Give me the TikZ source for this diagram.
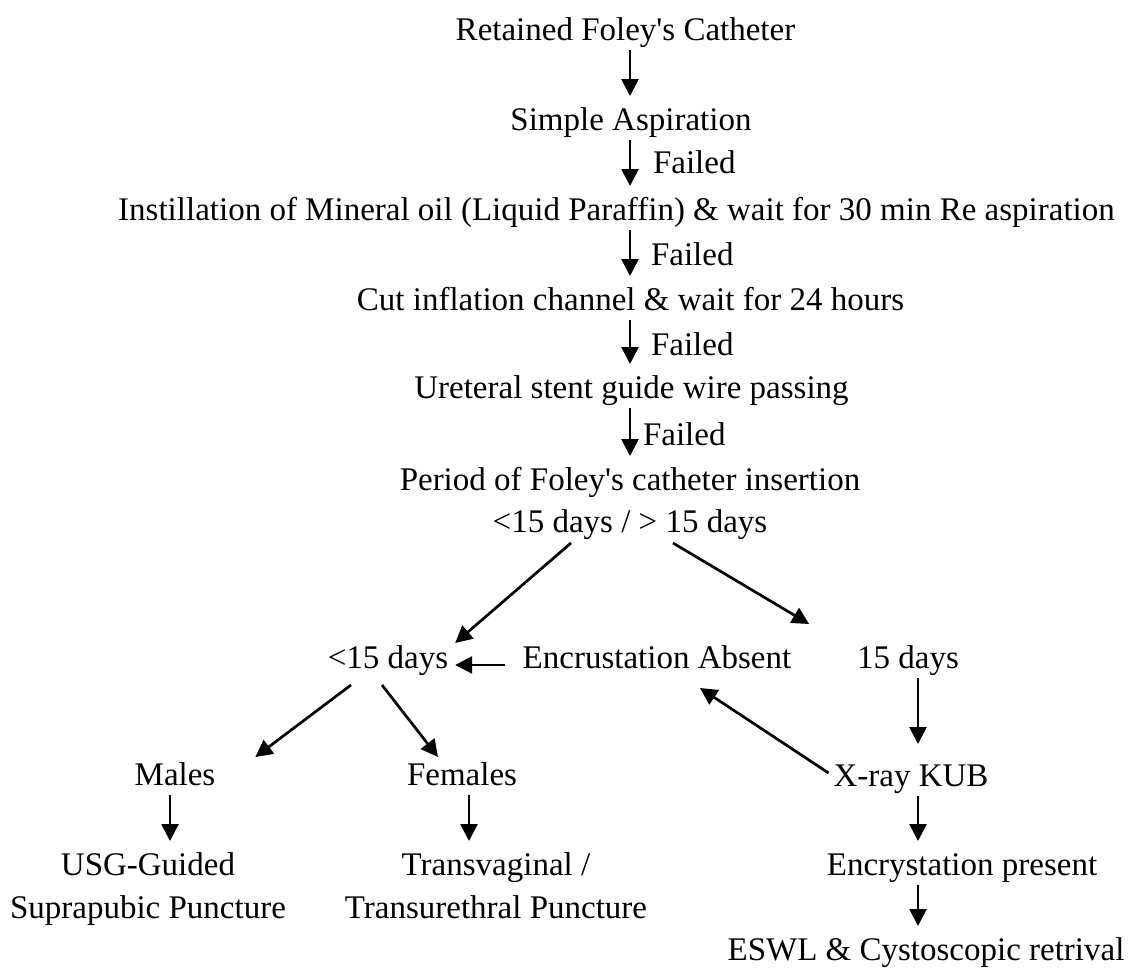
\documentclass[tikz,border=0pt]{standalone}
\usepackage{fontspec}
\setmainfont{Liberation Serif}
\usetikzlibrary{arrows.meta,positioning}

\begin{document}
\begin{tikzpicture}[
  x=1pt,y=-1pt,
  txt/.style={inner sep=0pt,outer sep=0pt,font=\fontsize{33}{43}\selectfont,text height=22pt,text depth=8pt},
  twoline/.style={inner sep=0pt,outer sep=0pt,font=\fontsize{33}{43}\selectfont,align=center,anchor=north},
  note/.style={txt,anchor=west},
  arrow/.style={-{Triangle[length=17pt,width=17pt]},line width=2.7pt},
  flow/.style={arrow,shorten <=2pt,shorten >=12pt}
]
\useasboundingbox (0,0) rectangle (1130,969);

\node[txt] (retained) at (625.5,33) {Retained Foley\textquotesingle s Catheter};
\node[txt] (aspiration) at (631,123) {Simple Aspiration};
\node[txt] (instill) at (616.5,213) {Instillation of Mineral oil (Liquid Paraffin) \& wait for 30 min Re aspiration};
\node[txt] (cut) at (630.5,303) {Cut inflation channel \& wait for 24 hours};
\node[txt] (wire) at (631.5,391) {Ureteral stent guide wire passing};
\node[txt] (period) at (630,483) {Period of Foley\textquotesingle s catheter insertion};
\node[txt] (split) at (630,525) {<15 days / > 15 days};

\node[note] (fail1) at (653,166) {Failed};
\node[note] (fail2) at (651,258) {Failed};
\node[note] (fail3) at (651,348) {Failed};
\node[note] (fail4) at (643,438) {Failed};

\node[txt] (short) at (388,661) {<15 days};
\node[txt] (absent) at (657,661) {Encrustation Absent};
\node[txt] (long) at (908,661) {15 days};
\node[txt] (males) at (175,778) {Males};
\node[txt] (females) at (462,778) {Females};
\node[txt] (xray) at (911,779) {X-ray KUB};
\node[twoline] (suprapubic) at (148,853) {USG-Guided\\Suprapubic Puncture};
\node[twoline] (transurethral) at (496,853) {Transvaginal /\\Transurethral Puncture};
\node[txt] (present) at (962,868) {Encrystation present};
\node[txt] (eswl) at (926,953) {ESWL \& Cystoscopic retrival};

\coordinate (spine) at (630,0);
\coordinate (rcol) at (918,0);

\draw[flow] (retained.south -| spine) -- (aspiration.north -| spine);
\draw[flow] (aspiration.south -| spine) -- (instill.north -| spine);
\draw[flow] (instill.south -| spine) -- (cut.north -| spine);
\draw[flow] (cut.south -| spine) -- (wire.north -| spine);
\draw[flow] (wire.south -| spine) -- (period.north -| spine);

\draw[arrow] ([xshift=-59pt,yshift=-3pt]split.south) -- ([xshift=7pt,yshift=3pt]short.north east);
\draw[arrow] ([xshift=43pt,yshift=-3pt]split.south) -- ([xshift=-48pt,yshift=22pt]long.north west);
\draw[arrow] ([xshift=-18pt,yshift=-4pt]absent.west) -- ([xshift=7pt,yshift=-4pt]short.east);
\draw[arrow] ([xshift=-37pt,yshift=-9pt]short.south) -- ([xshift=40pt,yshift=6pt]males.north east);
\draw[arrow] ([xshift=-6pt,yshift=-9pt]short.south) -- ([xshift=31pt,yshift=6pt]females.north west);
\draw[arrow] ([xshift=-5pt,yshift=6pt]xray.west) -- ([xshift=43pt,yshift=-12pt]absent.south);

\draw[flow] ([xshift=-5pt]males.south) -- ([xshift=22pt]suprapubic.north);
\draw[flow] ([xshift=7pt]females.south) -- ([xshift=-27pt]transurethral.north);
\draw[flow,shorten >=20pt] (long.south -| rcol) -- (xray.north -| rcol);
\draw[flow] (xray.south -| rcol) -- (present.north -| rcol);
\draw[flow] (present.south -| rcol) -- (eswl.north -| rcol);
\end{tikzpicture}
\end{document}
